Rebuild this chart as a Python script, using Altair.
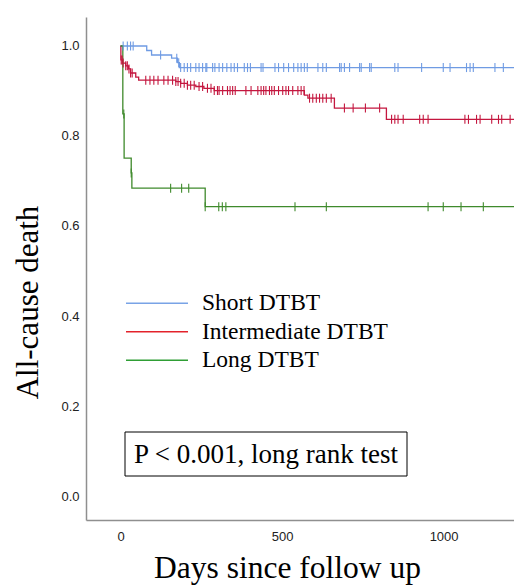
import altair as alt
import numpy as np
import pandas as pd

# ---------------- data ----------------
groups = ["Short DTBT", "Intermediate DTBT", "Long DTBT"]
curve_colors = ["#6f9be3", "#c4173f", "#3f8a2c"]
legend_colors = ["#79a3e6", "#e3222b", "#2f9e35"]

short_days = [0, 81, 96, 158, 176, 182]
short_surv = [1.0, 0.99, 0.98, 0.973, 0.963, 0.952]
short_cens = [8, 21, 31, 39, 124, 174, 180, 186, 197, 207, 217, 233, 243, 254,
              264, 267, 285, 292, 305, 316, 329, 342, 352, 362, 383, 393, 402,
              435, 441, 478, 489, 505, 520, 536, 549, 559, 569, 578, 611, 626,
              637, 678, 683, 693, 709, 740, 745, 771, 776, 849, 859, 932, 999,
              1020, 1071, 1082, 1092, 1159, 1185]

inter_days = [0, 1, 6, 16, 25, 31, 47, 56, 171, 186, 207, 233, 258, 290, 569,
              580, 662, 823]
inter_surv = [1.0, 0.969, 0.962, 0.956, 0.949, 0.94, 0.931, 0.924, 0.921, 0.917,
              0.913, 0.91, 0.906, 0.901, 0.891, 0.884, 0.862, 0.837]
inter_cens = [2, 5, 8, 16, 21, 26, 31, 36, 78, 91, 103, 116, 134, 147, 161, 171,
              178, 186, 197, 207, 217, 228, 243, 254, 269, 280, 290, 300, 305,
              316, 331, 339, 347, 355, 388, 404, 425, 435, 443, 450, 461, 468,
              476, 489, 502, 512, 520, 533, 549, 559, 568, 585, 595, 606, 616,
              626, 637, 652, 693, 720, 758, 802, 839, 849, 859, 875, 926, 937,
              952, 1066, 1077, 1102, 1113, 1149, 1170, 1180, 1206]

long_days = [0, 7, 11, 33, 35, 262]
long_surv = [1.0, 0.849, 0.751, 0.718, 0.684, 0.643]
long_cens = [10, 33, 155, 189, 211, 262, 304, 315, 326, 540, 637, 952, 999,
             1054, 1123]

last_follow_up = [1300, 1300, 1300]

x_ticks = [0, 500, 1000]
y_ticks = [0.0, 0.2, 0.4, 0.6, 0.8, 1.0]
x_title = "Days since follow up"
y_title = "All-cause death"
p_text = ["P < 0.001, long rank test"]

# ---------------- tables ----------------
all_days = [short_days, inter_days, long_days]
all_surv = [short_surv, inter_surv, long_surv]
all_cens = [short_cens, inter_cens, long_cens]

line_rows, cens_rows = [], []
for g, d, s, c, end in zip(groups, all_days, all_surv, all_cens, last_follow_up):
    for di, si in zip(d, s):
        line_rows.append({"group": g, "day": di, "surv": si})
    line_rows.append({"group": g, "day": end, "surv": s[-1]})
    idx = np.searchsorted(np.array(d), np.array(c), side="right") - 1
    for ci, ii in zip(c, idx):
        cens_rows.append({"group": g, "day": ci, "surv": s[ii]})

line_df = pd.DataFrame(line_rows)
cens_df = pd.DataFrame(cens_rows)
note_df = pd.DataFrame({"label": p_text})

SERIF = "Liberation Serif"
SANS = "Liberation Sans"

x_scale = alt.Scale(domain=[-107, 1218], nice=False, zero=False)
y_scale = alt.Scale(domain=[-0.0533, 1.0644], nice=False, zero=False)

x_enc = alt.X(
    "day:Q", scale=x_scale,
    axis=alt.Axis(values=x_ticks, format="d", title=x_title, ticks=False,
                  grid=False, labelFont=SANS, labelFontSize=13,
                  labelColor="#222222", labelPadding=10,
                  domainColor="#8f8f8f", domainWidth=1.5,
                  titleFont=SERIF, titleFontSize=31.5, titleFontWeight="normal",
                  titleColor="black", titleX=201, titleY=57,
                  titleAlign="center", titleBaseline="alphabetic"))
y_enc = alt.Y(
    "surv:Q", scale=y_scale,
    axis=alt.Axis(values=y_ticks, format=".1f", title=y_title, ticks=False,
                  grid=False, labelFont=SANS, labelFontSize=13,
                  labelColor="#222222", labelPadding=7,
                  domainColor="#8f8f8f", domainWidth=1.5,
                  titleFont=SERIF, titleFontSize=31, titleFontWeight="normal",
                  titleColor="black", titleX=-49, titleY=285, titleAngle=270,
                  titleAlign="center", titleBaseline="alphabetic"))

curve_scale = alt.Scale(domain=groups, range=curve_colors)

lines = alt.Chart(line_df).mark_line(
    interpolate="step-after", strokeWidth=1.3, clip=True
).encode(x=x_enc, y=y_enc,
         color=alt.Color("group:N", scale=curve_scale, legend=None))

ticks = alt.Chart(cens_df).mark_tick(
    orient="vertical", size=9, thickness=1.1, opacity=1, clip=True
).encode(x="day:Q", y="surv:Q",
         color=alt.Color("group:N", scale=curve_scale, legend=None))

legend_layer = alt.Chart(line_df).mark_line(
    interpolate="step-after", opacity=0, clip=True
).encode(
    x="day:Q", y="surv:Q",
    color=alt.Color(
        "group:N", sort=groups,
        scale=alt.Scale(domain=groups, range=legend_colors),
        legend=alt.Legend(
            title=None, orient="none", legendX=59.25, legendY=274.5,
            symbolType="M-3.1,0H3.1", symbolSize=400, symbolStrokeWidth=1.5,
            symbolOpacity=1, symbolOffset=0, labelOffset=33.25,
            labelFont=SERIF, labelFontSize=23.5, labelColor="black",
            rowPadding=3.5, padding=0, labelLimit=400)))

box = alt.Chart(note_df).mark_rect(
    filled=False, stroke="black", strokeWidth=1
).encode(x=alt.value(39), x2=alt.value(321),
         y=alt.value(415), y2=alt.value(459))

note = alt.Chart(note_df).mark_text(
    font=SERIF, fontSize=27, color="black", align="center", baseline="middle"
).encode(text="label:N", x=alt.value(180), y=alt.value(438))

chart = alt.layer(lines, ticks, legend_layer, box, note).resolve_scale(
    color="independent"
).properties(
    width=428, height=503,
    autosize=alt.AutoSizeParams(type="none"),
    padding={"left": 78, "top": 9, "right": 0, "bottom": 66},
).configure_view(stroke=None)

chart.save("out.html", embed_options={"renderer": "svg", "actions": False})
